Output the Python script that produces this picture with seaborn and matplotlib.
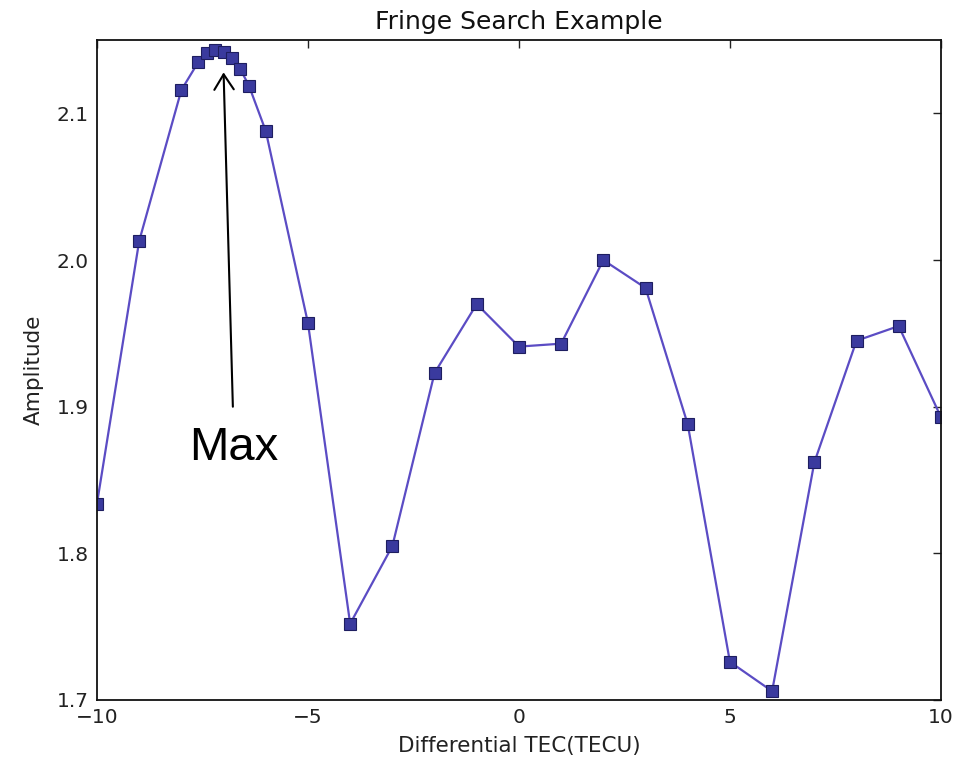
import matplotlib
matplotlib.use("Agg")
import matplotlib.pyplot as plt
import seaborn as sns
import pandas as pd

# Fringe search: amplitude versus differential TEC, with a finer scan near the peak
tec = [-10, -9, -8, -7.6, -7.4, -7.2, -7.0, -6.8, -6.6, -6.4, -6,
       -5, -4, -3, -2, -1, 0, 1, 2, 3, 4, 5, 6, 7, 8, 9, 10]
amplitude = [1.834, 2.013, 2.116, 2.135, 2.141, 2.143, 2.142, 2.138, 2.130, 2.119, 2.088,
             1.957, 1.752, 1.805, 1.923, 1.970, 1.941, 1.943, 2.000, 1.981, 1.888,
             1.726, 1.706, 1.862, 1.945, 1.955, 1.893]

x_ticks = [-10, -5, 0, 5, 10]
y_ticks = [1.7, 1.8, 1.9, 2.0, 2.1]
y_tick_labels = ["1.7", "1.8", "1.9", "2.0", "2.1"]

peak_tec = -7.0
peak_amp = 2.128

sns.set_style("white")
plt.rcParams["font.family"] = ["DejaVu Sans"]

df = pd.DataFrame({"tec": tec, "amp": amplitude})

fig = plt.figure(figsize=(9.68, 7.57), dpi=100)
ax = fig.add_axes([0.1002, 0.0753, 0.8718, 0.8717])

sns.lineplot(data=df, x="tec", y="amp", ax=ax, sort=True,
             color="#5b4cc4", linewidth=1.6,
             marker="s", markersize=9,
             markerfacecolor="#3a3a9e", markeredgecolor="#1e1e60",
             markeredgewidth=0.8)

ax.set_xlim(-10, 10)
ax.set_ylim(1.7, 2.15)
ax.set_xticks(x_ticks)
ax.set_xticklabels(["\u221210", "\u22125", "0", "5", "10"])
ax.set_yticks(y_ticks)
ax.set_yticklabels(y_tick_labels)

ax.tick_params(direction="in", length=6, width=1, top=True, right=True,
               labelsize=14.5, pad=6, colors="#222222")
for side in ["left", "right", "top", "bottom"]:
    ax.spines[side].set_visible(True)
    ax.spines[side].set_color("#111111")
    ax.spines[side].set_linewidth(1.3)

ax.set_xlabel("Differential TEC(TECU)", fontsize=15.5, labelpad=6, color="#222222")
ax.set_ylabel("Amplitude", fontsize=15.5, labelpad=9, color="#222222")
ax.set_title("Fringe Search Example", fontsize=18, pad=8, color="#111111")

# Arrow pointing at the maximum of the scan
ax.annotate("", xy=(peak_tec, peak_amp), xytext=(-6.78, 1.90),
            arrowprops=dict(arrowstyle="->, head_length=0.55, head_width=0.35",
                            mutation_scale=20, color="black", lw=1.5,
                            shrinkA=0, shrinkB=0))
ax.text(-6.75, 1.864, "Max", fontsize=34, family=["Liberation Sans"],
        ha="center", va="baseline", color="black")

fig.savefig("out.png", dpi=100, facecolor="white")
